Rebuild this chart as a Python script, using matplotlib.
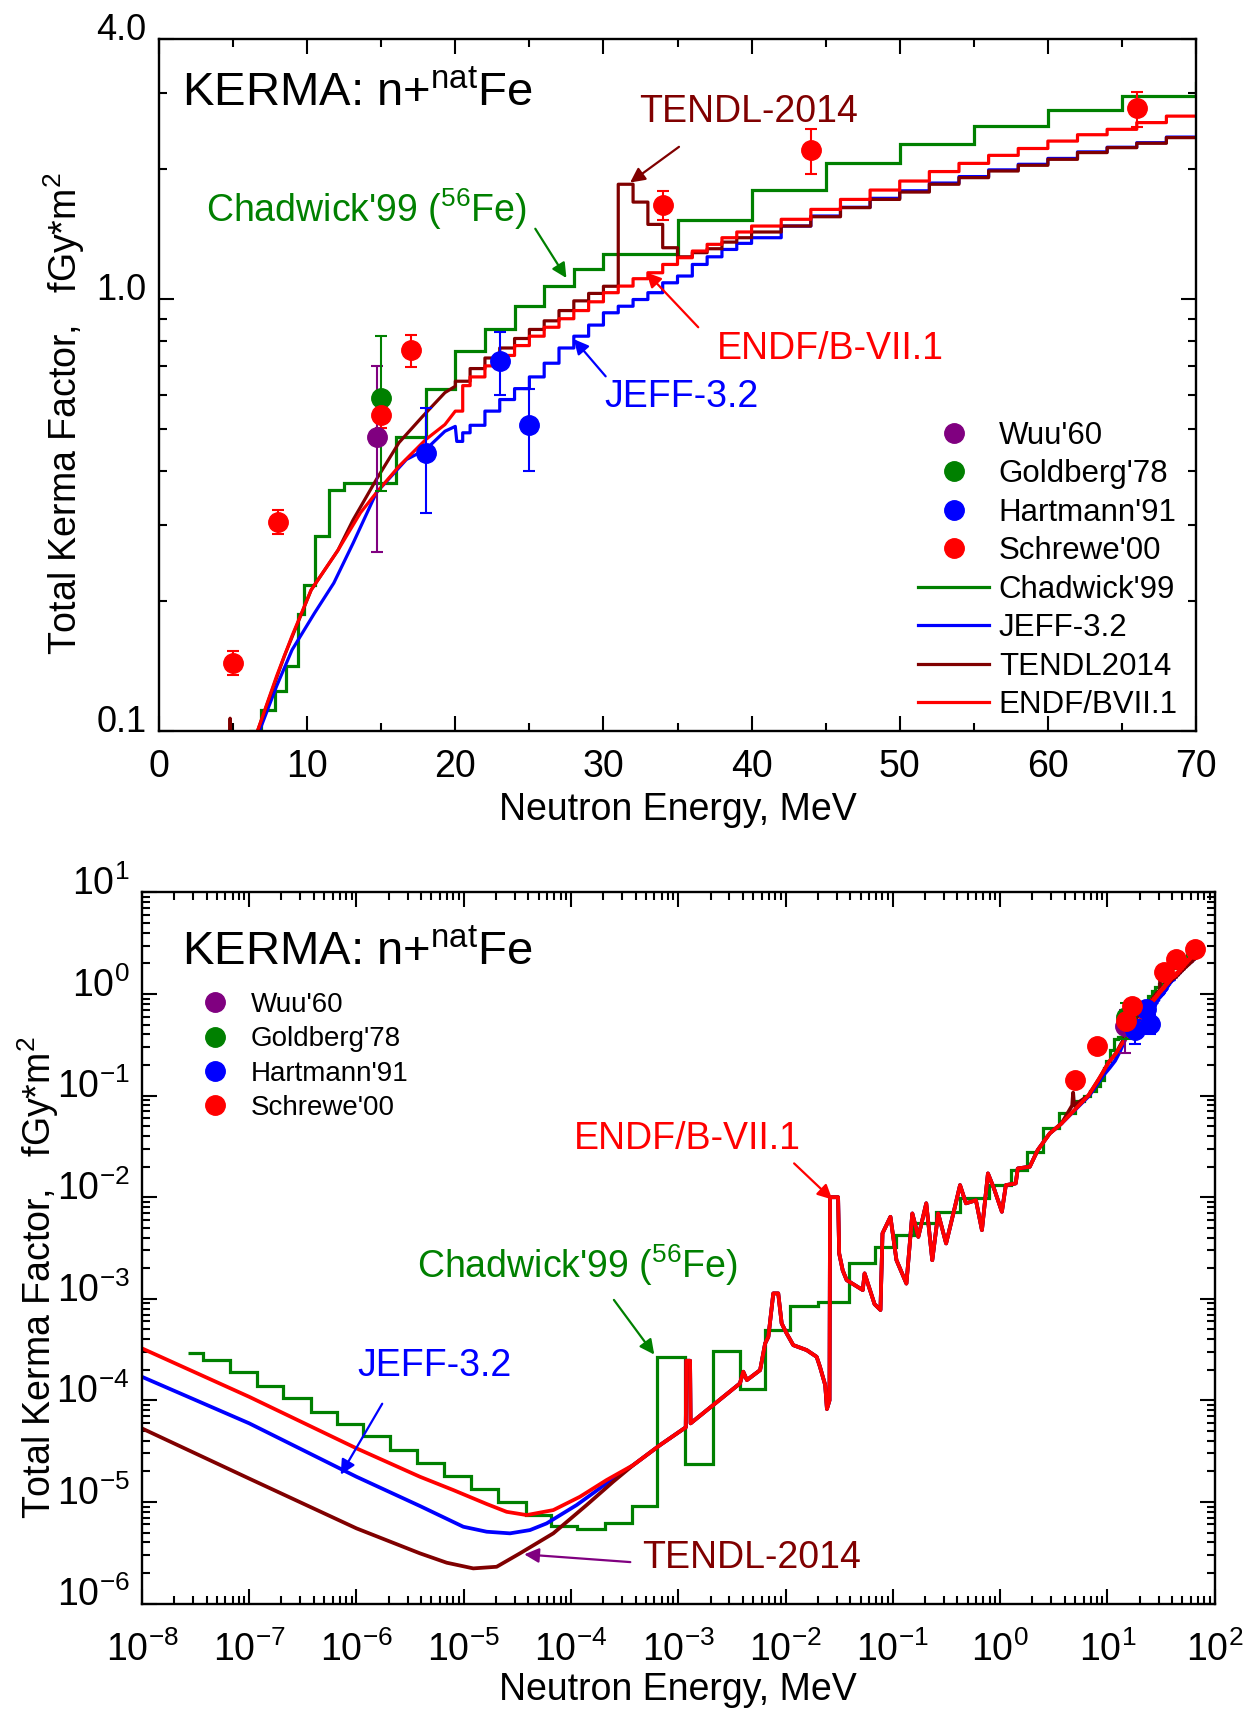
import numpy as np
import matplotlib
matplotlib.use('Agg')
import matplotlib.pyplot as plt
from matplotlib import ticker
from matplotlib.lines import Line2D
from matplotlib.transforms import ScaledTranslation

plt.rcParams['font.family'] = ['Liberation Sans', 'DejaVu Sans']
plt.rcParams['mathtext.fontset'] = 'custom'
plt.rcParams['mathtext.rm'] = 'Liberation Sans'
plt.rcParams['mathtext.it'] = 'Liberation Sans:italic'
plt.rcParams['mathtext.bf'] = 'Liberation Sans:bold'

GREEN, BLUE, DRED, RED, PURPLE = '#008000', '#0000ff', '#800000', '#ff0000', '#800080'

# ---------------- experimental data (MeV, fGy*m^2) ----------------
wuu_E, wuu_K, wuu_err = [14.7], [0.48], [0.22]
gold_E, gold_K, gold_err = [15.0], [0.59], [0.23]
hart_E = [18.0, 23.0, 25.0]
hart_K = [0.44, 0.72, 0.51]
hart_err = [0.12, 0.12, 0.11]
schr_E = [5.0, 8.0, 15.0, 17.0, 34.0, 44.0, 66.0]
schr_K = [0.144, 0.305, 0.54, 0.76, 1.65, 2.21, 2.76]
schr_err = [0.009, 0.02, 0.038, 0.065, 0.125, 0.26, 0.26]

# ---------------- evaluations, 5-70 MeV (top panel) ----------------
chad_edges = [6.1, 6.9, 7.8, 8.6, 9.4, 9.8, 10.5, 11.5, 12.5, 16, 18, 20, 22, 24, 26, 28, 30,
              35, 40, 45, 50, 55, 60, 65, 70, 71]
chad_K = [0.1, 0.112, 0.124, 0.141, 0.187, 0.218, 0.282, 0.362, 0.375, 0.48, 0.62, 0.757,
          0.853, 0.962, 1.074, 1.175, 1.27, 1.52, 1.79, 2.06, 2.29, 2.52, 2.74, 2.95, 3.17]

endf_E = [6.65, 7.94, 8.98, 10.27, 12.08, 13.6, 14.67, 16.2, 18.0, 19.3, 20.0, 20.5]
endf_K = [0.1, 0.134, 0.166, 0.212, 0.262, 0.32, 0.356, 0.41, 0.4725, 0.512, 0.55, 0.55]
endf_edges = [20.5, 21, 22, 23, 24, 25, 26, 27, 28, 29, 30, 31, 32, 33, 34, 35, 36, 37, 38, 39, 40,
              42, 44, 46, 48, 50, 52, 54, 56, 58, 60, 62, 64, 66, 68, 70]
endf_steps = [0.63, 0.66, 0.70, 0.74, 0.78, 0.82, 0.86, 0.90, 0.94, 0.985, 1.034, 1.071, 1.114,
              1.15, 1.202, 1.246, 1.291, 1.338, 1.386, 1.429, 1.475, 1.529, 1.612, 1.70, 1.787,
              1.875, 1.972, 2.06, 2.15, 2.23, 2.32, 2.40, 2.47, 2.56, 2.65]

tendl_E = [4.7, 4.8, 4.9, 6.65, 8.46, 10.27, 12.08, 13.1, 14.67, 16.2, 17.8, 19.3, 20.0]
tendl_K = [0.08, 0.107, 0.08, 0.1, 0.149, 0.212, 0.262, 0.308, 0.382, 0.465, 0.535, 0.607, 0.628]
tendl_edges = [20, 21, 22, 23, 24, 25, 26, 27, 28, 29, 30, 31, 32, 33, 34, 35, 36, 37, 38, 39, 40,
               42, 44, 46, 48, 50, 52, 54, 56, 58, 60, 62, 64, 66, 68, 70]
tendl_steps = [0.645, 0.69, 0.73, 0.77, 0.81, 0.85, 0.89, 0.94, 0.99, 1.03, 1.07, 1.843, 1.676,
               1.488, 1.314, 1.252, 1.28, 1.307, 1.354, 1.386, 1.429, 1.475, 1.55, 1.627, 1.70,
               1.768, 1.843, 1.909, 1.978, 2.039, 2.105, 2.182, 2.24, 2.293, 2.363]

jeff_E = [6.78, 7.94, 8.98, 10.5, 11.8, 13.1, 14.67, 16.7, 18.0, 19.3, 20.0, 20.1, 20.5]
jeff_K = [0.1, 0.127, 0.154, 0.1875, 0.22, 0.272, 0.356, 0.425, 0.448, 0.494, 0.507, 0.468, 0.468]
jeff_edges = endf_edges
jeff_steps = [0.49, 0.51, 0.55, 0.585, 0.62, 0.66, 0.71, 0.77, 0.82, 0.87, 0.929, 0.962, 0.997,
              1.034, 1.09, 1.13, 1.202, 1.252, 1.302, 1.345, 1.386, 1.475, 1.556, 1.63, 1.71,
              1.78, 1.855, 1.92, 1.99, 2.05, 2.115, 2.19, 2.245, 2.30, 2.37]

# ---------------- low energy + resonance range (log10 E, log10 K) ----------------
endf_lo_logE = [-8.0, -7.0, -6.0, -5.408, -5.097, -4.786, -4.6, -4.413, -4.165, -3.917, -3.668]
endf_lo_logK = [-3.488, -3.965, -4.472, -4.752, -4.883, -5.02, -5.097, -5.129, -5.08, -4.949, -4.784]
jeff_lo_logE = [-8.0, -7.0, -6.0, -5.408, -5.004, -4.786, -4.569, -4.383, -4.227, -3.947, -3.668]
jeff_lo_logK = [-3.768, -4.226, -4.752, -5.04, -5.244, -5.293, -5.309, -5.277, -5.211, -5.03, -4.817]
tendl_lo_logE = [-8.0, -7.0, -6.0, -5.408, -5.159, -4.911, -4.693, -4.476, -4.165, -3.854, -3.606]
tendl_lo_logK = [-4.276, -4.77, -5.26, -5.506, -5.598, -5.654, -5.638, -5.506, -5.309, -5.03, -4.8]

res_logE = [-3.42, -3.17, -2.93, -2.925, -2.89, -2.885, -2.425, -2.394, -2.36, -2.237, -2.19,
            -2.16, -2.114, -2.068, -2.036, -1.99, -1.928, -1.803, -1.71, -1.679, -1.63, -1.614,
            -1.59, -1.585, -1.51, -1.50, -1.467, -1.43, -1.28, -1.263, -1.17, -1.115, -1.096,
            -1.022, -0.966, -0.873, -0.818, -0.762, -0.688, -0.632, -0.577, -0.503, -0.428,
            -0.373, -0.318, -0.225, -0.169, -0.113, -0.057, 0.017, 0.054, 0.146, 0.165, 0.277,
            0.351, 0.463, 0.573]
res_logK = [-4.637, -4.44, -4.265, -3.61, -3.61, -4.226, -3.833, -3.718, -3.80, -3.702, -3.439,
            -3.374, -2.947, -2.947, -3.242, -3.34, -3.456, -3.505, -3.571, -3.669, -3.85, -4.085,
            -4.0, -2.0, -2.0, -2.553, -2.72, -2.816, -2.914, -2.75, -3.053, -3.11, -2.356,
            -2.193, -2.619, -2.85, -2.16, -2.39, -2.06, -2.62, -2.16, -2.455, -2.127, -1.881,
            -2.06, -2.03, -2.324, -1.766, -1.913, -2.143, -1.881, -1.864, -1.717, -1.7, -1.536,
            -1.372, -1.274]

chad_lo_edges = [-7.568, -7.428, -7.18, -6.93, -6.683, -6.427, -6.185, -5.943, -5.688, -5.433,
                 -5.184, -4.936, -4.678, -4.42, -4.19, -3.947, -3.683, -3.434, -3.196, -2.938,
                 -2.68, -2.425, -2.19, -1.96, -1.695, -1.41, -1.17, -0.97, -0.80, -0.60, -0.37,
                 -0.10, 0.10, 0.25, 0.40, 0.55, 0.70, 0.785]
chad_lo_vals = [-3.532, -3.603, -3.718, -3.859, -3.98, -4.112, -4.233, -4.351, -4.489, -4.614,
                -4.745, -4.876, -5.0, -5.129, -5.234, -5.27, -5.205, -5.037, -3.571, -4.627,
                -3.512, -3.892, -3.308, -3.072, -3.03, -2.652, -2.49, -2.373, -2.25, -2.144,
                -2.012, -1.881, -1.733, -1.55, -1.32, -1.175, -1.05]


def steps(edges, vals):
    x = np.repeat(np.asarray(edges, float), 2)[1:-1]
    y = np.repeat(np.asarray(vals, float), 2)
    return x, y


def top_curve(E, K, edges, vals):
    sx, sy = steps(edges, vals)
    return np.concatenate([E, sx]), np.concatenate([K, sy])


endf_x, endf_y = top_curve(endf_E, endf_K, endf_edges, endf_steps)
tendl_x, tendl_y = top_curve(tendl_E, tendl_K, tendl_edges, tendl_steps)
jeff_x, jeff_y = top_curve(jeff_E, jeff_K, jeff_edges, jeff_steps)


def full_curve(lo_logE, lo_logK, x, y):
    E = np.concatenate([10 ** np.array(lo_logE), 10 ** np.array(res_logE), x])
    K = np.concatenate([10 ** np.array(lo_logK), 10 ** np.array(res_logK), y])
    return E, K


fig = plt.figure(figsize=(12.55, 17.13), dpi=100)
ax1 = fig.add_axes([0.1267, 0.5733, 0.8263, 0.404])
ax2 = fig.add_axes([0.1131, 0.0639, 0.8547, 0.4151])

lw = 2.3
ms = 14


def draw_points(ax):
    ax.errorbar(wuu_E, wuu_K, yerr=wuu_err, fmt='o', color=PURPLE, ms=ms, capsize=4,
                elinewidth=1.5, capthick=1.5, zorder=4)
    ax.errorbar(gold_E, gold_K, yerr=gold_err, fmt='o', color=GREEN, ms=ms, capsize=4,
                elinewidth=1.5, capthick=1.5, zorder=4)
    ax.errorbar(hart_E, hart_K, yerr=hart_err, fmt='o', color=BLUE, ms=ms, capsize=4,
                elinewidth=1.5, capthick=1.5, zorder=4)
    ax.errorbar(schr_E, schr_K, yerr=schr_err, fmt='o', color=RED, ms=ms, capsize=4,
                elinewidth=1.5, capthick=1.5, zorder=4)


def style_axis(ax):
    for s in ax.spines.values():
        s.set_linewidth(1.7)
    ax.tick_params(which='both', direction='in', top=True, right=True, width=1.5)
    ax.tick_params(which='major', length=11)
    ax.tick_params(which='minor', length=6)


# ---------------- top panel ----------------
ax1.stairs(chad_K, chad_edges, baseline=None, color=GREEN, lw=lw, zorder=2)
ax1.plot(jeff_x, jeff_y, color=BLUE, lw=lw, zorder=2)
ax1.plot(tendl_x, tendl_y, color=DRED, lw=lw, zorder=2)
ax1.plot(endf_x, endf_y, color=RED, lw=lw, zorder=2)
draw_points(ax1)

ax1.set_yscale('log')
ax1.set_xlim(0, 70)
ax1.set_ylim(0.1, 4.0)
ax1.xaxis.set_major_locator(ticker.MultipleLocator(10))
ax1.xaxis.set_minor_locator(ticker.MultipleLocator(5))
ax1.set_yticks([0.1, 1.0, 4.0])
ax1.set_yticklabels(['0.1', '1.0', '4.0'])
ax1.yaxis.set_minor_locator(ticker.LogLocator(base=10, subs=np.arange(2, 10)))
ax1.yaxis.set_minor_formatter(ticker.NullFormatter())
style_axis(ax1)
ax1.tick_params(axis='x', which='major', labelsize=27, pad=13)
ax1.tick_params(axis='y', which='major', labelsize=26, pad=9)
ax1.set_xlabel('Neutron Energy, MeV', fontsize=27, labelpad=5)
ax1.set_ylabel(r'Total Kerma Factor,   fGy*m$^{2}$', fontsize=27)
ax1.yaxis.set_label_coords(-0.069, 0.458)

ax1.text(1.55, 2.98, r'KERMA: n+$^{\mathrm{nat}}$Fe', fontsize=34, ha='left', va='center')
ax1.text(39.8, 2.71, 'TENDL-2014', fontsize=27, color=DRED, ha='center', va='center')
ax1.text(14.0, 1.614, r"Chadwick'99 ($^{56}$Fe)", fontsize=27, color=GREEN, ha='center', va='center')
ax1.text(45.3, 0.766, 'ENDF/B-VII.1', fontsize=27, color=RED, ha='center', va='center')
ax1.text(35.3, 0.592, 'JEFF-3.2', fontsize=27, color=BLUE, ha='center', va='center')
arr = dict(arrowstyle='-|>', lw=1.6, mutation_scale=22, shrinkA=0, shrinkB=0)
ax1.annotate('', xy=(31.8, 1.86), xytext=(35.1, 2.25), arrowprops=dict(arr, color=DRED))
ax1.annotate('', xy=(27.5, 1.118), xytext=(25.4, 1.454), arrowprops=dict(arr, color=GREEN))
ax1.annotate('', xy=(32.9, 1.152), xytext=(36.4, 0.86), arrowprops=dict(arr, color=RED))
ax1.annotate('', xy=(28.0, 0.807), xytext=(30.15, 0.662), arrowprops=dict(arr, color=BLUE))

handles = [
    Line2D([], [], marker='o', ls='none', color=PURPLE, ms=ms),
    Line2D([], [], marker='o', ls='none', color=GREEN, ms=ms),
    Line2D([], [], marker='o', ls='none', color=BLUE, ms=ms),
    Line2D([], [], marker='o', ls='none', color=RED, ms=ms),
    Line2D([], [], color=GREEN, lw=lw),
    Line2D([], [], color=BLUE, lw=lw),
    Line2D([], [], color=DRED, lw=lw),
    Line2D([], [], color=RED, lw=lw),
]
labels = ["Wuu'60", "Goldberg'78", "Hartmann'91", "Schrewe'00",
          "Chadwick'99", 'JEFF-3.2', 'TENDL2014', 'ENDF/BVII.1']
ax1.legend(handles, labels, loc='lower right', bbox_to_anchor=(0.993, 0.0), fontsize=22.5,
           frameon=False, handlelength=2.3, handletextpad=0.3, labelspacing=0.27,
           borderaxespad=0.25, borderpad=0.1)

# ---------------- bottom panel ----------------
chad_all_edges = np.concatenate([10 ** np.array(chad_lo_edges), chad_edges[1:]])
chad_all_K = np.concatenate([10 ** np.array(chad_lo_vals), chad_K])
ax2.stairs(chad_all_K, chad_all_edges, baseline=None, color=GREEN, lw=lw, zorder=2)
E, K = full_curve(jeff_lo_logE, jeff_lo_logK, jeff_x, jeff_y)
ax2.plot(E, K, color=BLUE, lw=2.7, zorder=2)
E, K = full_curve(tendl_lo_logE, tendl_lo_logK, tendl_x, tendl_y)
ax2.plot(E, K, color=DRED, lw=2.7, zorder=2)
E, K = full_curve(endf_lo_logE, endf_lo_logK, endf_x, endf_y)
ax2.plot(E, K, color=RED, lw=2.7, zorder=2)
draw_points(ax2)

ax2.set_xscale('log')
ax2.set_yscale('log')
ax2.set_xlim(1e-8, 1e2)
ax2.set_ylim(1e-6, 1e1)
for axis in (ax2.xaxis, ax2.yaxis):
    axis.set_major_locator(ticker.LogLocator(base=10, numticks=20))
    axis.set_minor_locator(ticker.LogLocator(base=10, subs=np.arange(2, 10), numticks=20))
    axis.set_minor_formatter(ticker.NullFormatter())
style_axis(ax2)
ax2.tick_params(axis='x', which='major', labelsize=27, pad=20)
ax2.tick_params(axis='y', which='major', labelsize=27, pad=9)
ax2.set_xlabel('Neutron Energy, MeV', fontsize=27, labelpad=2)
ax2.set_ylabel(r'Total Kerma Factor,   fGy*m$^{2}$', fontsize=27)
ax2.yaxis.set_label_coords(-0.075, 0.458)

ax2.text(10 ** -7.623, 10 ** 0.407, r'KERMA: n+$^{\mathrm{nat}}$Fe', fontsize=34, ha='left', va='center')
ax2.text(10 ** -2.913, 10 ** -1.431, 'ENDF/B-VII.1', fontsize=27, color=RED, ha='center', va='center')
ax2.text(10 ** -3.94, 10 ** -2.667, r"Chadwick'99 ($^{56}$Fe)", fontsize=27, color=GREEN,
         ha='center', va='center')
ax2.text(10 ** -5.271, 10 ** -3.657, 'JEFF-3.2', fontsize=27, color=BLUE, ha='center', va='center')
ax2.text(10 ** -2.313, 10 ** -5.548, 'TENDL-2014', fontsize=27, color=DRED, ha='center', va='center')
ax2.annotate('', xy=(10 ** -1.564, 10 ** -2.023), xytext=(10 ** -1.92, 10 ** -1.667),
             arrowprops=dict(arr, color=RED))
ax2.annotate('', xy=(10 ** -3.224, 10 ** -3.549), xytext=(10 ** -3.6, 10 ** -3.011),
             arrowprops=dict(arr, color=GREEN))
ax2.annotate('', xy=(10 ** -6.147, 10 ** -4.731), xytext=(10 ** -5.76, 10 ** -4.033),
             arrowprops=dict(arr, color=BLUE))
ax2.annotate('', xy=(10 ** -4.436, 10 ** -5.516), xytext=(10 ** -3.447, 10 ** -5.592),
             arrowprops=dict(arr, color=PURPLE))

ax2.legend(handles[:4], labels[:4], loc='upper left', bbox_to_anchor=(0.055, 0.86), fontsize=20,
           frameon=False, handlelength=1.0, handletextpad=0.8, labelspacing=0.3,
           borderaxespad=0.0, borderpad=0.0)

# y tick labels sit a little above their ticks in the original
shift = ScaledTranslation(0, 12 / 100, fig.dpi_scale_trans)
for ax in (ax1, ax2):
    for lbl in ax.get_yticklabels():
        lbl.set_transform(lbl.get_transform() + shift)

fig.savefig('out.png', dpi=100)
